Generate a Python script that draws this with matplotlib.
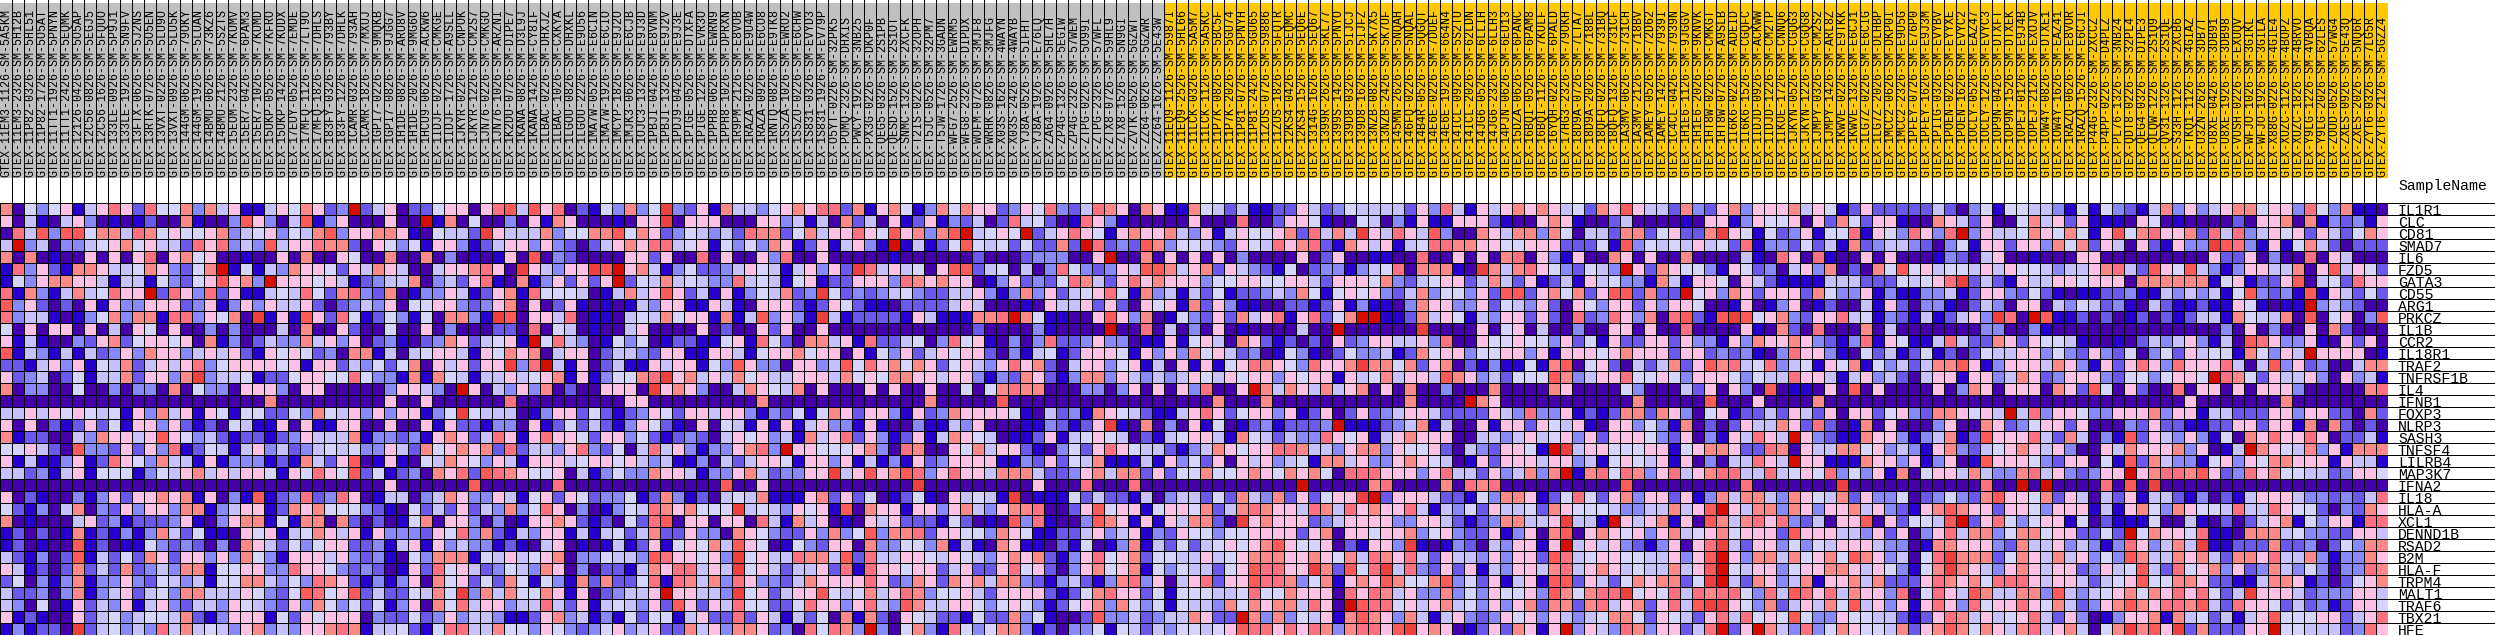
import numpy as np
import matplotlib
matplotlib.use("Agg")
import matplotlib.pyplot as plt
from matplotlib.colors import ListedColormap

genes = ["IL1R1","CLC","CD81","SMAD7","IL6","FZD5","GATA3","CD55","ARG1","PRKCZ","IL1B","CCR2","IL18R1","TRAF2",
         "TNFRSF1B","IL4","IFNB1","FOXP3","NLRP3","SASH3","TNFSF4","LILRB4","MAP3K7","IFNA2","IL18","HLA-A","XCL1",
         "DENND1B","RSAD2","B2M","HLA-F","TRPM4","MALT1","TRAF6","TBX21","HFE"]

samples = """GTEX-11EM3-1126-SM-5A5KM GTEX-11EM3-2326-SM-5H12B GTEX-11P82-0326-SM-5HL51 GTEX-11P82-1726-SM-5O5AT GTEX-11TT1-1926-SM-5PNYN
GTEX-11TT1-2426-SM-5EQMK GTEX-12126-0426-SM-5O5AP GTEX-12C56-0826-SM-5EGJ5 GTEX-12C56-1626-SM-5FQUO GTEX-133LE-0926-SM-5P9J1
GTEX-133LE-1926-SM-5N9FV GTEX-13FTX-0626-SM-5J2NS GTEX-13RTK-0726-SM-5O5EN GTEX-13VXT-0226-SM-5LU9O GTEX-13VXT-0926-SM-5LU5K
GTEX-144GM-0626-SM-79OKY GTEX-144GM-1926-SM-5LUAN GTEX-14BMU-0626-SM-73KZ6 GTEX-14BMU-2126-SM-5S2TS GTEX-15EOM-2326-SM-7KUMV
GTEX-15ER7-0426-SM-6PAM3 GTEX-15ER7-1026-SM-7KUMD GTEX-15UKP-0526-SM-7KFRO GTEX-15UKP-1426-SM-7KUDX GTEX-17EUY-0526-SM-7EMDE
GTEX-17MFQ-1126-SM-7LT9O GTEX-17MFQ-1826-SM-7DHLS GTEX-183FY-0326-SM-793BY GTEX-183FY-1226-SM-7DHLK GTEX-1CAMR-0326-SM-793AH
GTEX-1CAMR-1826-SM-7MXUJ GTEX-1GPI7-0226-SM-9MQKB GTEX-1GPI7-0826-SM-9JGG7 GTEX-1H1DE-0826-SM-ARU8V GTEX-1H1DE-2026-SM-9MG6O
GTEX-1HCU9-0626-SM-ACKW6 GTEX-1IDJF-0226-SM-CMKGE GTEX-1IDJF-1726-SM-A9SLL GTEX-1JKYR-0226-SM-CNPOK GTEX-1JKYR-1226-SM-CM2S7
GTEX-1JN76-0226-SM-CMKGO GTEX-1JN76-1026-SM-ARZNI GTEX-1K2DU-0726-SM-DIPE7 GTEX-1KANA-0826-SM-D3L9J GTEX-1KANA-1426-SM-CY8IF
GTEX-1LBAC-0226-SM-DHXJZ GTEX-1LBAC-1026-SM-CXKYA GTEX-1LGOU-0826-SM-DHXKL GTEX-1LGOU-2226-SM-E9U56 GTEX-1MA7W-0526-SM-E6CIN
GTEX-1MA7W-1926-SM-E6CIO GTEX-1MCYP-1826-SM-E9J2O GTEX-1MJK3-0626-SM-E6CJB GTEX-1OJC3-1326-SM-E9J3D GTEX-1PBJI-0426-SM-E8VNM
GTEX-1PBJI-1326-SM-E9J2V GTEX-1PDJ9-0426-SM-E9J3E GTEX-1PIGE-0526-SM-DTXFA GTEX-1PIGE-1226-SM-EVR3O GTEX-1PPH8-0626-SM-EWRN9
GTEX-1PPH8-1026-SM-DPRXN GTEX-1R9PM-2126-SM-E8VOB GTEX-1RAZA-0226-SM-E9U4W GTEX-1RAZA-0926-SM-E6CO8 GTEX-1RNTQ-0826-SM-E9TK8
GTEX-1S5ZA-1026-SM-EWRO2 GTEX-1S5ZU-0226-SM-E6CHW GTEX-1S831-0326-SM-EVYD3 GTEX-1S831-1926-SM-EV79P GTEX-O5YT-0226-SM-32PK5
GTEX-POMQ-2326-SM-DHXIS GTEX-PWCY-1926-SM-3NB25 GTEX-PX3G-0226-SM-DKP0F GTEX-QEG5-0326-SM-2S1PB GTEX-QESD-1526-SM-2S1OT
GTEX-SNMC-1326-SM-2XCFK GTEX-T2IS-0226-SM-32OPH GTEX-T5JC-0526-SM-32PM7 GTEX-T5JW-1726-SM-3GADN GTEX-WFG7-2526-SM-EWRM5
GTEX-WFG8-2326-SM-DIPDX GTEX-WOFM-0726-SM-3MJF8 GTEX-WRHK-0826-SM-3MJFG GTEX-X03S-1626-SM-4WAYN GTEX-X03S-2426-SM-4WAYB
GTEX-YJ8A-0526-SM-5IFHT GTEX-YJ8A-1926-SM-E76LQ GTEX-ZA64-0926-SM-5HL7H GTEX-ZP4G-1326-SM-5EGIW GTEX-ZP4G-2326-SM-57WEM
GTEX-ZTPG-0226-SM-5O99I GTEX-ZTPG-2326-SM-57WFL GTEX-ZTX8-0726-SM-59HL9 GTEX-ZTX8-1526-SM-5N9GI GTEX-ZVTK-0526-SM-5GZWT
GTEX-ZZ64-0626-SM-5GZWR GTEX-ZZ64-1626-SM-5E43W GTEX-11EQ9-1126-SM-5987I GTEX-11EQ9-2526-SM-5HL66 GTEX-11LCK-0326-SM-5A5M7
GTEX-11LCK-1126-SM-5A5KC GTEX-11P7K-0826-SM-5BC5F GTEX-11P7K-2026-SM-5GU74 GTEX-11P81-0726-SM-5PNYH GTEX-11P81-2426-SM-5GU65
GTEX-11ZUS-0726-SM-59886 GTEX-11ZUS-1826-SM-5FQTR GTEX-12KS4-0426-SM-5EQMC GTEX-12KS4-1526-SM-5EQ6E GTEX-1314G-1626-SM-5EQ67
GTEX-1399R-2626-SM-5KL77 GTEX-1399S-1426-SM-5PNYO GTEX-139D8-0326-SM-5IJCJ GTEX-139D8-1626-SM-5IJFZ GTEX-13NZB-0826-SM-5K7X5
GTEX-13NZB-2426-SM-5K7UF GTEX-145MN-2626-SM-5NQAH GTEX-146FQ-0226-SM-5NQAL GTEX-14B4R-0526-SM-5QGQT GTEX-14E6E-0226-SM-7DUEF
GTEX-14E6E-1926-SM-664N4 GTEX-14ICL-0926-SM-5S2TU GTEX-14ICL-2026-SM-62LDN GTEX-14JG6-0526-SM-6LLIH GTEX-14JG6-2326-SM-6LLH3
GTEX-14PJN-0626-SM-6EU13 GTEX-15DZA-0626-SM-6PANC GTEX-16BQI-0526-SM-6PAM8 GTEX-16BQI-1126-SM-7KULF GTEX-16YQH-0226-SM-6PALD
GTEX-17HG3-2326-SM-79OKH GTEX-18D9A-0726-SM-7LTA7 GTEX-18D9A-2026-SM-718BL GTEX-18QFQ-0226-SM-731BQ GTEX-18QFQ-1326-SM-731CF
GTEX-1A3MV-0626-SM-731CH GTEX-1A3MV-2126-SM-718BV GTEX-1AMEY-0526-SM-72D62 GTEX-1AMEY-1426-SM-7939I GTEX-1C4CL-0426-SM-7939N
GTEX-1H1E6-1126-SM-9JGGV GTEX-1H1E6-2026-SM-9KNVK GTEX-1HT8W-0226-SM-CMKGT GTEX-1HT8W-0726-SM-A9SLB GTEX-1I6K6-0226-SM-ADEID
GTEX-1I6K6-1526-SM-CGQFC GTEX-1IDJD-0926-SM-ACKWW GTEX-1IDJD-1226-SM-CM2TP GTEX-1IKOE-1726-SM-CNNQ6 GTEX-1JKYN-0526-SM-CGQG3
GTEX-1JKYN-1226-SM-CGQG8 GTEX-1JMPY-0326-SM-CM2S2 GTEX-1JMPY-1426-SM-ARL8Z GTEX-1KWVE-0226-SM-E9TKK GTEX-1KWVE-1326-SM-E6CJ1
GTEX-1LG7Z-0226-SM-E6CIG GTEX-1LG7Z-2026-SM-DLHBP GTEX-1MCC2-0626-SM-DKP0I GTEX-1MCC2-2326-SM-E9U5G GTEX-1PFEY-0726-SM-E76P0
GTEX-1PFEY-1626-SM-E9J3M GTEX-1PIIG-0326-SM-EVYBV GTEX-1POEN-0226-SM-EYYXE GTEX-1POEN-1626-SM-EVYC2 GTEX-1OCLY-0526-SM-EAZ47
GTEX-1OCLY-1226-SM-EVYC3 GTEX-1OP9N-0426-SM-DTXFT GTEX-1OP9N-1526-SM-DTXEK GTEX-1OPEJ-0126-SM-E9J4B GTEX-1OPEJ-2126-SM-EXOJV
GTEX-1OW4Y-0826-SM-DTXE1 GTEX-1OW4Y-1626-SM-EAZ41 GTEX-1RAZQ-0626-SM-E8VOR GTEX-1RAZQ-1526-SM-E6CJI GTEX-P44G-2326-SM-2XCCZ
GTEX-P4PP-0226-SM-D4PLZ GTEX-PL76-1326-SM-3NB24 GTEX-QDT8-0226-SM-32PL4 GTEX-QEG4-0326-SM-DIPE3 GTEX-QLQW-1226-SM-2S1Q9
GTEX-QV31-1326-SM-2S1QE GTEX-S33H-1126-SM-2XCB6 GTEX-TKQ1-1126-SM-4GIAZ GTEX-U3ZN-2626-SM-3DB7T GTEX-U8XE-0426-SM-3DB91
GTEX-U8XE-1926-SM-3DB98 GTEX-VUSH-0226-SM-EXUQV GTEX-WFJO-1026-SM-3GIKL GTEX-WFJO-1926-SM-3GILA GTEX-X88G-0226-SM-4GIE4
GTEX-XUZC-1126-SM-4BOPZ GTEX-XUZC-1826-SM-4BRVO GTEX-Y9LG-1226-SM-4VBQA GTEX-Y9LG-2026-SM-62LES GTEX-ZOUD-0526-SM-57WG4
GTEX-ZXES-0926-SM-5E43Q GTEX-ZXES-2026-SM-5NQ6R GTEX-ZYT6-0326-SM-7LG5R GTEX-ZYT6-2126-SM-5GZZ4""".split()

n_control = 97

# Colour level (0 = lowest ... b = highest) of every cell, by row; blocks of 25 columns.
P1 = """70535 61468 62855 73746 11465
60410 46301 01200 71003 96304
08493 99577 48756 55673 45635
4b340 33456 75644 28683 43946
70701 00606 06806 75600 10060
18362 17764 45763 257b1 51437
15367 76641 44153 25696 73b66
81731 47458 66b28 63826 11454
93620 20616 33666 23613 63644
83441 01357 37718 83657 0a161
50606 60604 06506 00303 00040
61410 03267 25665 60713 02433
91431 41423 63766 34646 21656
22146 36154 72464 68356 66656
62340 25144 72663 7a344 51225
70330 05003 03307 05330 66630
00000 00000 00000 00000 00700
44646 56545 16374 61651 55225
60602 12625 16636 21205 41160
71220 04376 64696 53421 22123
55642 09332 62638 12541 46342
61411 36128 65374 41613 33121
44231 46155 51354 67464 66516
00000 00000 00000 00000 00000
60210 03136 26676 71603 19123
52130 47032 63663 77134 66127
70100 04623 12223 61036 77151
12020 17121 31374 25110 65614
12010 09120 11532 32030 76425
42130 29142 52762 66363 75316
64120 27242 72343 77155 66338
25031 37133 63254 34155 77435
42230 37134 62453 77444 65325
43050 16243 61463 24436 54326
61210 06245 34554 72136 66152
13122 0a245 34384 74543 67343"""

P2 = """7623b 24602 25660 68949 68021
91360 00600 b1705 00306 17600
47936 67761 05442 a6444 73557
68772 06535 16631 24663 63202
70065 00700 70301 01609 03200
66526 47640 04667 860a6 4366a
65641 23447 03426 81071 36262
85278 32701 33641 26718 55540
62023 43605 56632 36706 02610
96285 12531 50773 1a906 64801
70062 00500 60300 02208 05401
74636 02310 23762 4561b 58430
52307 71404 56641 65767 04660
16624 35257 06462 66a38 b4160
66558 53317 17541 44645 67161
66000 00366 430b6 04363 70200
00000 00600 60000 00800 00000
37546 36366 135a5 44401 36625
61166 00600 61622 13306 12524
64447 13323 16762 48616 86652
34545 33642 75676 72824 43683
74269 01610 54765 36416 66456
58659 25123 07682 98765 56041
00000 00600 00009 00000 08000
82386 01440 34763 36415 62652
67555 32105 24262 43735 86030
77072 02015 70663 03016 67621
57646 16333 26583 72143 66141
35662 23146 16343 31210 46010
66463 23105 37771 54645 67033
66532 32016 28564 23543 76030
38762 13136 07562 52751 53172
98569 24225 475a3 74755 76160
37535 25136 07584 66344 84261
65666 03225 23634 43112 67341
66787 14452 15884 47553 65323"""

P3 = """53735 a3261 74435 67688 27167
01066 a0666 00066 34140 72406
79576 23543 42877 25746 68659
46768 84561 53537 61261 4631b
00662 60080 60063 80060 00001
9b674 13522 34654 14636 2a846
6b254 74543 38454 15612 26663
14746 96241 61354 723a5 23234
10143 66116 41066 62126 52110
10454 75661 71493 631a4 12222
00460 00060 20062 60060 00000
15350 12211 56185 20774 61822
24432 66116 64156 67566 06153
24116 46615 39633 06634 95867
35578 a6746 47564 46664 75657
6660a 67630 04765 47060 00606
00660 00000 00070 00000 00000
21236 52664 66313 25157 62663
21365 21060 54161 61463 31610
66352 12320 46563 41746 82631
25048 46313 36783 b6655 56730
65643 41130 42466 51663 61413
35337 66413 36742 3366a 46967
00000 00000 90060 00000 00000
33512 73120 45471 11672 62501
13548 76755 5a454 36561 90766
20528 90660 66084 17460 10646
45247 22633 07653 22637 35937
14126 15657 49650 15326 60733
54439 86656 3a564 48774 92844
22147 68846 4a564 24462 81866
72258 18747 38633 24766 66862
23446 b6644 3a562 46695 45746
45436 29626 48552 25866 36843
31525 51462 28264 14250 71720
56346 22746 37762 30858 73b30"""

P4 = """51375 76623 65832 48760 76117
12613 24028 45201 86310 00006
67379 b4565 b2468 65167 66743
14125 95452 52272 b8232 97355
00000 02000 23330 06b00 70606
45069 92450 40385 32364 99746
87676 60136 23258 74268 67666
53224 46313 73624 56851 73414
22224 64000 10644 62620 65617
16411 1778b 75110 06963 70153
00000 02000 03100 00b00 80403
45038 56103 03822 36330 11615
62465 66203 14512 66651 63637
57625 64368 67204 66356 14061
76646 63132 76213 77364 34346
00600 50578 77000 33036 06063
00700 00090 00000 00000 00000
16237 66665 10423 17654 21146
03114 36000 11321 26a10 70306
26147 65401 12614 56540 21456
87006 57466 21035 26865 44213
16236 66611 32625 47111 41635
98368 66477 74223 67477 26255
0a000 00000 06000 80008 00000
25106 4541a 01115 24221 40344
16636 74367 78002 69566 15665
22215 20109 38100 39761 61647
78266 55376 51122 46346 13265
55371 41076 11021 50137 14252
66546 54367 67213 68567 25544
56624 62268 56203 67567 15354
37627 67477 32134 21378 36046
87355 64266 66212 57866 25155
97446 65356 53125 67375 35154
65422 15227 35100 29334 23447
57318 53577 31203 35154 24355"""

P5 = """54241 12264 23544 44263 84164
00080 02665 10054 03161 16662
61465 56728 474a6 48649 30076
43265 48678 21764 61458 87766
06030 00060 26001 10080 06060
72643 21502 33134 58077 710a7
35566 55664 26665 73245 66247
25122 34375 15656 32473 55362
26311 00221 26131 10376 63362
26274 68168 257bb 11274 65143
06010 00040 0b000 000a0 00060
64076 21202 06236 64463 80065
56423 01531 02533 41275 66355
61568 76538 667a7 75726 70213
54656 63656 61645 74664 97634
8006b 74764 74670 60700 30007
07000 70000 00000 00700 00b76
86256 63612 60262 34664 22226
15012 31222 3b111 23471 40061
64175 42433 86561 46766 60044
47656 68874 43677 36556 20432
26064 63451 77463 36765 40162
75567 65767 50888 66636 84426
00000 000b0 00007 80000 70878
25274 37262 566ab 26664 22153
72478 76648 74867 66841 43526
720a6 76662 34666 63366 42123
53556 66626 70665 66735 63226
45656 79655 60216 63a10 13204
64567 77667 65748 76842 64436
42569 8866a 72958 a4832 62614
82669 88735 71676 97557 93526
54458 55766 60868 74633 73536
43757 67748 60b98 85646 74536
622b7 37354 61797 63741 46323
45698 86868 73788 69a67 60126"""

P6 = """67676 45276 96442 73267 36667
10067 61002 40000 10661 36556
47737 50442 77256 227a6 51523
55666 22251 93545 46452 81332
78063 16007 60600 70000 41086
47865 32543 b6276 55316 52304
42612 41645 33174 16650 64211
99267 57269 92722 b5637 62666
54362 06536 62636 65001 60136
66262 08238 63708 9219a 95673
56040 03006 60600 80000 61072
56553 62516 22662 63316 37667
66361 66656 76662 66232 31038
11517 90562 04247 26978 45834
25559 73466 85565 36665 35448
00007 60000 53000 42606 30901
00000 00000 07000 00900 06000
43833 61212 77276 30561 22426
66265 46106 63531 70202 64476
34645 63626 66532 60316 4864b
6651b a4665 55661 56776 22870
66646 63415 65461 60304 4864b
34737 b1785 87368 46788 44845
00000 00000 90000 00000 80000
77612 58526 73662 61374 77437
44527 65554 33447 469b6 47737
77446 a441b 64671 60974 78683
13607 90676 56367 45675 66629
36616 b4646 32136 068a4 26635
36629 84566 55446 369b6 37747
36647 84676 45447 469b5 46635
14619 92642 57677 25ab4 27634
55639 75788 a5658 48788 53849
36727 72784 67268 49aa6 53724
65636 43457 75265 42684 85659
27616 b3643 87366 248b2 6b743"""

P7 = """46512 62222 24203 51554 43151
06275 26610 07642 60057 46261
61558 16538 638b3 64457 65751
52417 23443 20351 66266 37572
08100 60600 01320 46001 00066
63702 07595 64554 64655 43446
11444 22254 568a2 42164 46656
27533 61311 33412 66325 21011
01200 41620 33102 43066 04354
26684 51321 41246 3a80b 91120
08000 70400 00000 33003 10000
63213 81651 14842 27626 55410
66310 52412 51202 54466 35326
51657 15342 47796 13666 47631
66414 63420 46616 63476 23666
10609 06000 06037 60666 07629
07000 00000 00000 00000 00000
42606 62563 27765 64b48 36653
28201 70600 03600 76235 66260
63211 76631 34712 96668 42740
64477 56343 16732 45676 46300
66111 76636 13601 96665 32660
65835 36170 56647 43378 46323
000a0 00000 00000 800b0 b0000
65472 63350 23532 79665 72640
63667 46321 67976 62665 36661
24066 90625 549b2 68535 66150
66644 36260 36847 73577 56622
35466 64330 17766 63274 46343
56759 76340 58a77 72576 47463
66776 46531 57a76 43676 46623
71667 47222 68767 58886 46642
86847 66380 58649 74477 39434
64759 46361 68638 56686 57423
53365 54421 26874 64568 42630
83576 55472 67975 76478 46740"""

P8 = """53214 73634 67756 63853 7110
11065 01000 02066 70713 2316
69578 66728 48346 56264 2576
64062 1633a 98316 15742 0222
00000 00006 22603 00806 4000
78429 65943 13664 47069 4652
66077 77771 56122 69045 2866
22311 43434 15932 31916 4252
23104 21121 16510 11b34 3200
20120 21244 17544 70905 6039
00000 00000 30603 00607 2000
01024 34631 40986 33610 6260
32503 52645 51753 64b66 6601
62686 38666 84049 36230 0477
32553 5665b 87526 44630 6341
50620 08066 06066 63000 0078
00000 00600 00000 70000 0000
36667 36614 42226 63662 2072
00326 22112 26626 61707 2020
31926 43631 50768 66860 2241
64766 67360 14b76 54736 1777
51927 43315 63657 76661 6441
66b67 88796 23867 55442 3665
8090a 00000 00000 00000 0000
42614 42130 21466 64332 3248
41675 37655 48448 65520 3276
21115 00410 20246 71536 6188
52b57 66581 10777 45332 2664
13863 474a1 12227 22302 5377
53974 47674 27768 44731 3376
64594 28567 36237 43530 3387
45695 57762 21147 76120 2567
56757 68685 24a66 64233 3664
67976 88794 28665 24231 2665
13667 17452 41469 55566 2468
57a79 6a272 2266b 55444 2386"""

level_colors = ["#4500AD", "#2700D1", "#6B58EF", "#8888FF", "#C7C1FF", "#D5D5FF",
                "#FFC0E5", "#FF8989", "#FF7080", "#FF5A5A", "#EF4040", "#D60C00"]
control_color = "#C0C0C0"
case_color = "#FFC800"


def parse(block, width):
    rows = []
    for line in block.splitlines():
        digits = [int(c, 16) for c in line.replace(" ", "")]
        if len(digits) != width:
            print("bad row length", len(digits), line)
        rows.append((digits + [6] * width)[:width])
    return np.array(rows)


Z = np.hstack([parse(p, 25) for p in (P1, P2, P3, P4, P5, P6, P7)] + [parse(P8, 24)])
n_rows, n_cols = Z.shape

W, H = 2495, 636
fig = plt.figure(figsize=(W / 100, H / 100), dpi=100, facecolor="white")
LW = 0.72
GRID_W = 12 * n_cols
TOP = 203
ROW_H = 12
FONT = "Liberation Mono"


def box(x0, y0, x1, y1):
    return [x0 / W, 1 - y1 / H, (x1 - x0) / W, (y1 - y0) / H]


# Heat map
ax = fig.add_axes(box(0, TOP, GRID_W, TOP + ROW_H * n_rows))
ax.pcolormesh(Z, cmap=ListedColormap(level_colors), vmin=-0.5, vmax=11.5,
              edgecolors="black", linewidth=LW, antialiased=False)
ax.set_xlim(0, n_cols)
ax.set_ylim(n_rows, 0)
ax.axis("off")

# Sample header
ah = fig.add_axes(box(0, 0, GRID_W, TOP))
ah.set_xlim(0, n_cols)
ah.set_ylim(TOP, 0)
ah.axis("off")
cols = [control_color if i < n_control else case_color for i in range(n_cols)]
ah.bar(np.arange(n_cols) + 0.5, 175, bottom=3, width=1.0, color=cols, linewidth=0)
ah.vlines(np.arange(1, n_cols + 1), 0, TOP, color="black", linewidth=LW, antialiased=False)
for i, s in enumerate(samples[:n_cols]):
    ah.text(i + 0.5, 177, s, rotation=90, ha="center", va="bottom", family=FONT,
            fontsize=8.42, color="#000000")

# Row labels
al = fig.add_axes(box(GRID_W, TOP, W, TOP + ROW_H * n_rows))
al.set_xlim(GRID_W, W)
al.set_ylim(n_rows, 0)
al.axis("off")
al.hlines(np.arange(n_rows + 1), GRID_W, W, color="black", linewidth=LW, antialiased=False)
for i, g in enumerate(genes):
    al.text(2398, i + 1.02, g, ha="left", va="baseline", family=FONT,
            fontsize=10.76, color="#000000")
al.text(2398, -13 / ROW_H, "SampleName", ha="left", va="baseline", family=FONT,
        fontsize=10.76, color="#000000", clip_on=False)

fig.savefig("out.png", dpi=100)
